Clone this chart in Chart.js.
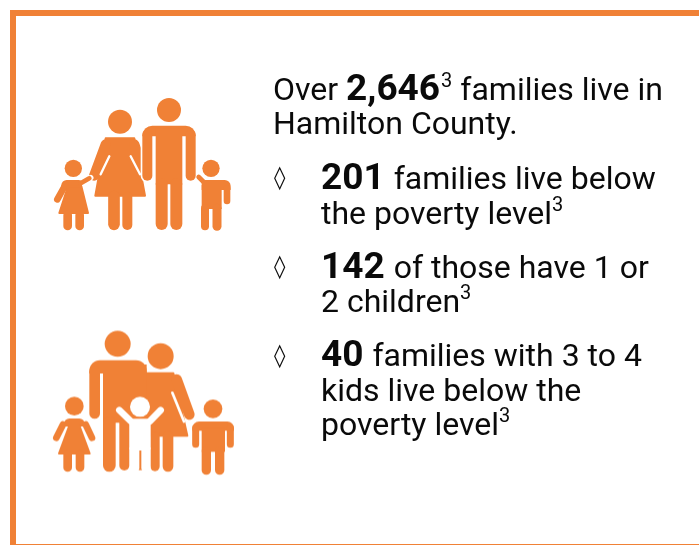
<!DOCTYPE html>
<html lang="en">
<head>
<meta charset="utf-8">
<title>Hamilton County families</title>
<script src="https://cdn.jsdelivr.net/npm/chart.js@4/dist/chart.umd.min.js"></script>
<style>
  html, body { margin: 0; padding: 0; background: #fff; }
  #page { position: relative; width: 699px; height: 545px; overflow: hidden; font-family: Roboto, sans-serif; color: #0a0a0a; }
  #iconChart { position: absolute; left: 0; top: 0; }
  .frame { position: absolute; background: #f08136; }
  .line { position: absolute; white-space: nowrap; font-size: 32px; line-height: 36px; }
  .line b { font-size: 37px; font-weight: 700; line-height: 0; margin-right: 1px; }
  .line sup { font-size: 20px; line-height: 0; vertical-align: baseline; position: relative; top: -13px; }
  .diamond { position: absolute; left: 274px; font-size: 23px; line-height: 24px; font-family: "DejaVu Sans", sans-serif; }
</style>
</head>
<body>
<div id="page">
  <div class="frame" style="left:10px;top:10px;width:689px;height:6px"></div>
  <div class="frame" style="left:10px;top:10px;width:6px;height:535px"></div>
  <div class="frame" style="left:16px;top:544px;width:683px;height:1px"></div>
  <canvas id="iconChart" width="699" height="545"></canvas>
  <div id="copy"></div>
</div>
<script>
const totalFamilies = "2,646";
const belowPoverty = "201";
const smallFamilies = "142";
const largeFamilies = "40";

const iconNames = ["family of four", "family of five"];
const iconX = [145, 145];
const iconY = [165, 402];

const textLines = [
  { left: 273, base: 100, html: `Over <b>${totalFamilies}</b><sup>3</sup> families live in` },
  { left: 273, base: 134, html: "Hamilton County." },
  { left: 321, base: 189, html: `<b>${belowPoverty}</b> families live below` },
  { left: 321, base: 224, html: "the poverty level<sup>3</sup>" },
  { left: 321, base: 278, html: `<b>${smallFamilies}</b> of those have 1 or` },
  { left: 321, base: 312, html: "2 children<sup>3</sup>" },
  { left: 321, base: 366, html: `<b>${largeFamilies}</b> families with 3 to 4` },
  { left: 321, base: 401, html: "kids live below the" },
  { left: 321, base: 435, html: "poverty level<sup>3</sup>" }
];
const diamondTops = [165, 254, 343];

const orange = "#f08136";

function makePen(ctx) {
  return {
    disc(x, y, r, color = orange) {
      ctx.fillStyle = color;
      ctx.beginPath();
      ctx.arc(x, y, r, 0, Math.PI * 2);
      ctx.fill();
    },
    line(x1, y1, x2, y2, w, color = orange) {
      ctx.strokeStyle = color;
      ctx.lineWidth = w;
      ctx.lineCap = "round";
      ctx.beginPath();
      ctx.moveTo(x1, y1);
      ctx.lineTo(x2, y2);
      ctx.stroke();
    },
    box(x, y, w, h, radii = 0, color = orange) {
      ctx.fillStyle = color;
      ctx.beginPath();
      ctx.roundRect(x, y, w, h, radii);
      ctx.fill();
    },
    poly(points, color = orange) {
      ctx.fillStyle = color;
      ctx.strokeStyle = color;
      ctx.lineWidth = 6;
      ctx.lineJoin = "round";
      ctx.beginPath();
      points.forEach(([x, y], i) => (i ? ctx.lineTo(x, y) : ctx.moveTo(x, y)));
      ctx.closePath();
      ctx.fill();
      ctx.stroke();
    }
  };
}

// shapes are in the 3x space the icons were measured in
function drawFamilyOfFour(p) {
  // woman
  p.disc(240, 110, 36);
  p.poly([[197, 160], [283, 160], [315, 332], [166, 332]]);
  p.line(197, 178, 162, 272, 30);
  p.line(283, 178, 318, 272, 30);
  p.line(208, 214, 182, 268, 7, "#fff");
  p.line(272, 214, 300, 268, 7, "#fff");
  p.line(222, 335, 222, 418, 35);
  p.line(262, 335, 262, 420, 30);
  // man
  p.box(299, 114, 176, 48, 36, "#fff");
  p.line(322, 150, 322, 272, 40, "#fff");
  p.disc(387, 75, 36);
  p.box(307, 122, 160, 32, [30, 30, 0, 0]);
  p.line(322, 150, 322, 272, 30);
  p.line(452, 150, 452, 272, 30);
  p.box(347, 130, 80, 168);
  p.line(365, 298, 365, 417, 36);
  p.line(409, 298, 409, 417, 36);
  // girl
  p.line(120, 296, 152, 278, 17, "#fff");
  p.disc(100, 250, 26);
  p.box(64, 285, 62, 26, [16, 10, 0, 0]);
  p.line(76, 300, 52, 343, 20);
  p.line(122, 295, 148, 280, 14);
  p.poly([[84, 304], [124, 304], [144, 384], [58, 384]]);
  p.line(83, 390, 83, 423, 26);
  p.line(119, 390, 119, 423, 26);
  // boy
  p.disc(513, 250, 26);
  p.line(476, 276, 497, 297, 14);
  p.box(485, 285, 87, 30, [0, 18, 0, 0]);
  p.box(485, 300, 60, 72);
  p.line(561, 310, 561, 348, 20);
  p.line(495, 370, 495, 424, 24);
  p.line(531, 370, 531, 424, 27);
}

function drawFamilyOfFive(p) {
  // woman
  p.poly([[310, 161], [400, 161], [442, 349], [310, 349]]);
  p.line(410, 180, 448, 285, 32);
  p.line(397, 220, 432, 306, 8, "#fff");
  p.line(345, 350, 345, 441, 28);
  p.line(384, 350, 384, 441, 32);
  // man
  p.disc(233, 73, 39);
  p.box(148, 122, 172, 40, [32, 32, 0, 0]);
  p.line(164, 155, 164, 282, 32);
  p.box(189, 135, 131, 175);
  p.line(208, 310, 208, 438, 38);
  p.line(253, 310, 253, 438, 30);
  p.box(268, 300, 64, 140);
  p.box(290, 380, 20, 72);
  // her head sits in front of his shoulder
  p.disc(362, 110, 44, "#fff");
  p.disc(362, 110, 39);
  // child in white
  p.disc(300, 262, 30, "#fff");
  p.line(238, 272, 272, 305, 20, "#fff");
  p.line(362, 272, 330, 305, 20, "#fff");
  p.box(268, 298, 64, 95, 8, "#fff");
  p.box(268, 385, 30, 72, [0, 0, 12, 12], "#fff");
  p.box(304, 385, 28, 72, [0, 0, 12, 12], "#fff");
  // girl
  p.disc(103, 260, 28);
  p.box(72, 297, 62, 24, [16, 16, 0, 0]);
  p.line(69, 315, 49, 355, 20);
  p.line(137, 315, 156, 355, 20);
  p.poly([[88, 318], [118, 318], [149, 402], [57, 402]]);
  p.line(83, 405, 83, 444, 26);
  p.line(120, 405, 120, 444, 26);
  // boy
  p.disc(519, 268, 28);
  p.box(457, 306, 125, 28, [20, 20, 0, 0]);
  p.line(467, 325, 467, 374, 21);
  p.line(571, 325, 571, 374, 21);
  p.box(485, 325, 70, 72);
  p.line(499, 395, 499, 452, 28);
  p.line(539, 395, 539, 452, 28);
}

function makeIcon(width, height, paint) {
  const canvas = document.createElement("canvas");
  canvas.width = width;
  canvas.height = height;
  const ctx = canvas.getContext("2d");
  ctx.scale(1 / 3, 1 / 3);
  paint(makePen(ctx));
  return canvas;
}

function renderCopy() {
  const copy = document.getElementById("copy");
  const lines = textLines
    .map((l) => `<div class="line" style="left:${l.left}px;top:${l.base - 29}px">${l.html}</div>`)
    .join("");
  const diamonds = diamondTops
    .map((top) => `<div class="diamond" style="top:${top}px">\u25CA</div>`)
    .join("");
  copy.innerHTML = lines + diamonds;
}

function renderIcons() {
  new Chart(document.getElementById("iconChart"), {
    type: "scatter",
    data: {
      labels: iconNames,
      datasets: [
        {
          data: iconX.map((x, i) => ({ x, y: iconY[i] })),
          pointStyle: [makeIcon(210, 160, drawFamilyOfFour), makeIcon(210, 165, drawFamilyOfFive)],
          pointRadius: 10
        }
      ]
    },
    options: {
      responsive: false,
      animation: false,
      layout: { padding: 0, autoPadding: false },
      scales: {
        x: { type: "linear", display: false, min: 0, max: 699 },
        y: { type: "linear", display: false, min: 0, max: 545, reverse: true }
      },
      plugins: { legend: { display: false }, tooltip: { enabled: false } }
    }
  });
}

renderCopy();
renderIcons();
</script>
</body>
</html>
